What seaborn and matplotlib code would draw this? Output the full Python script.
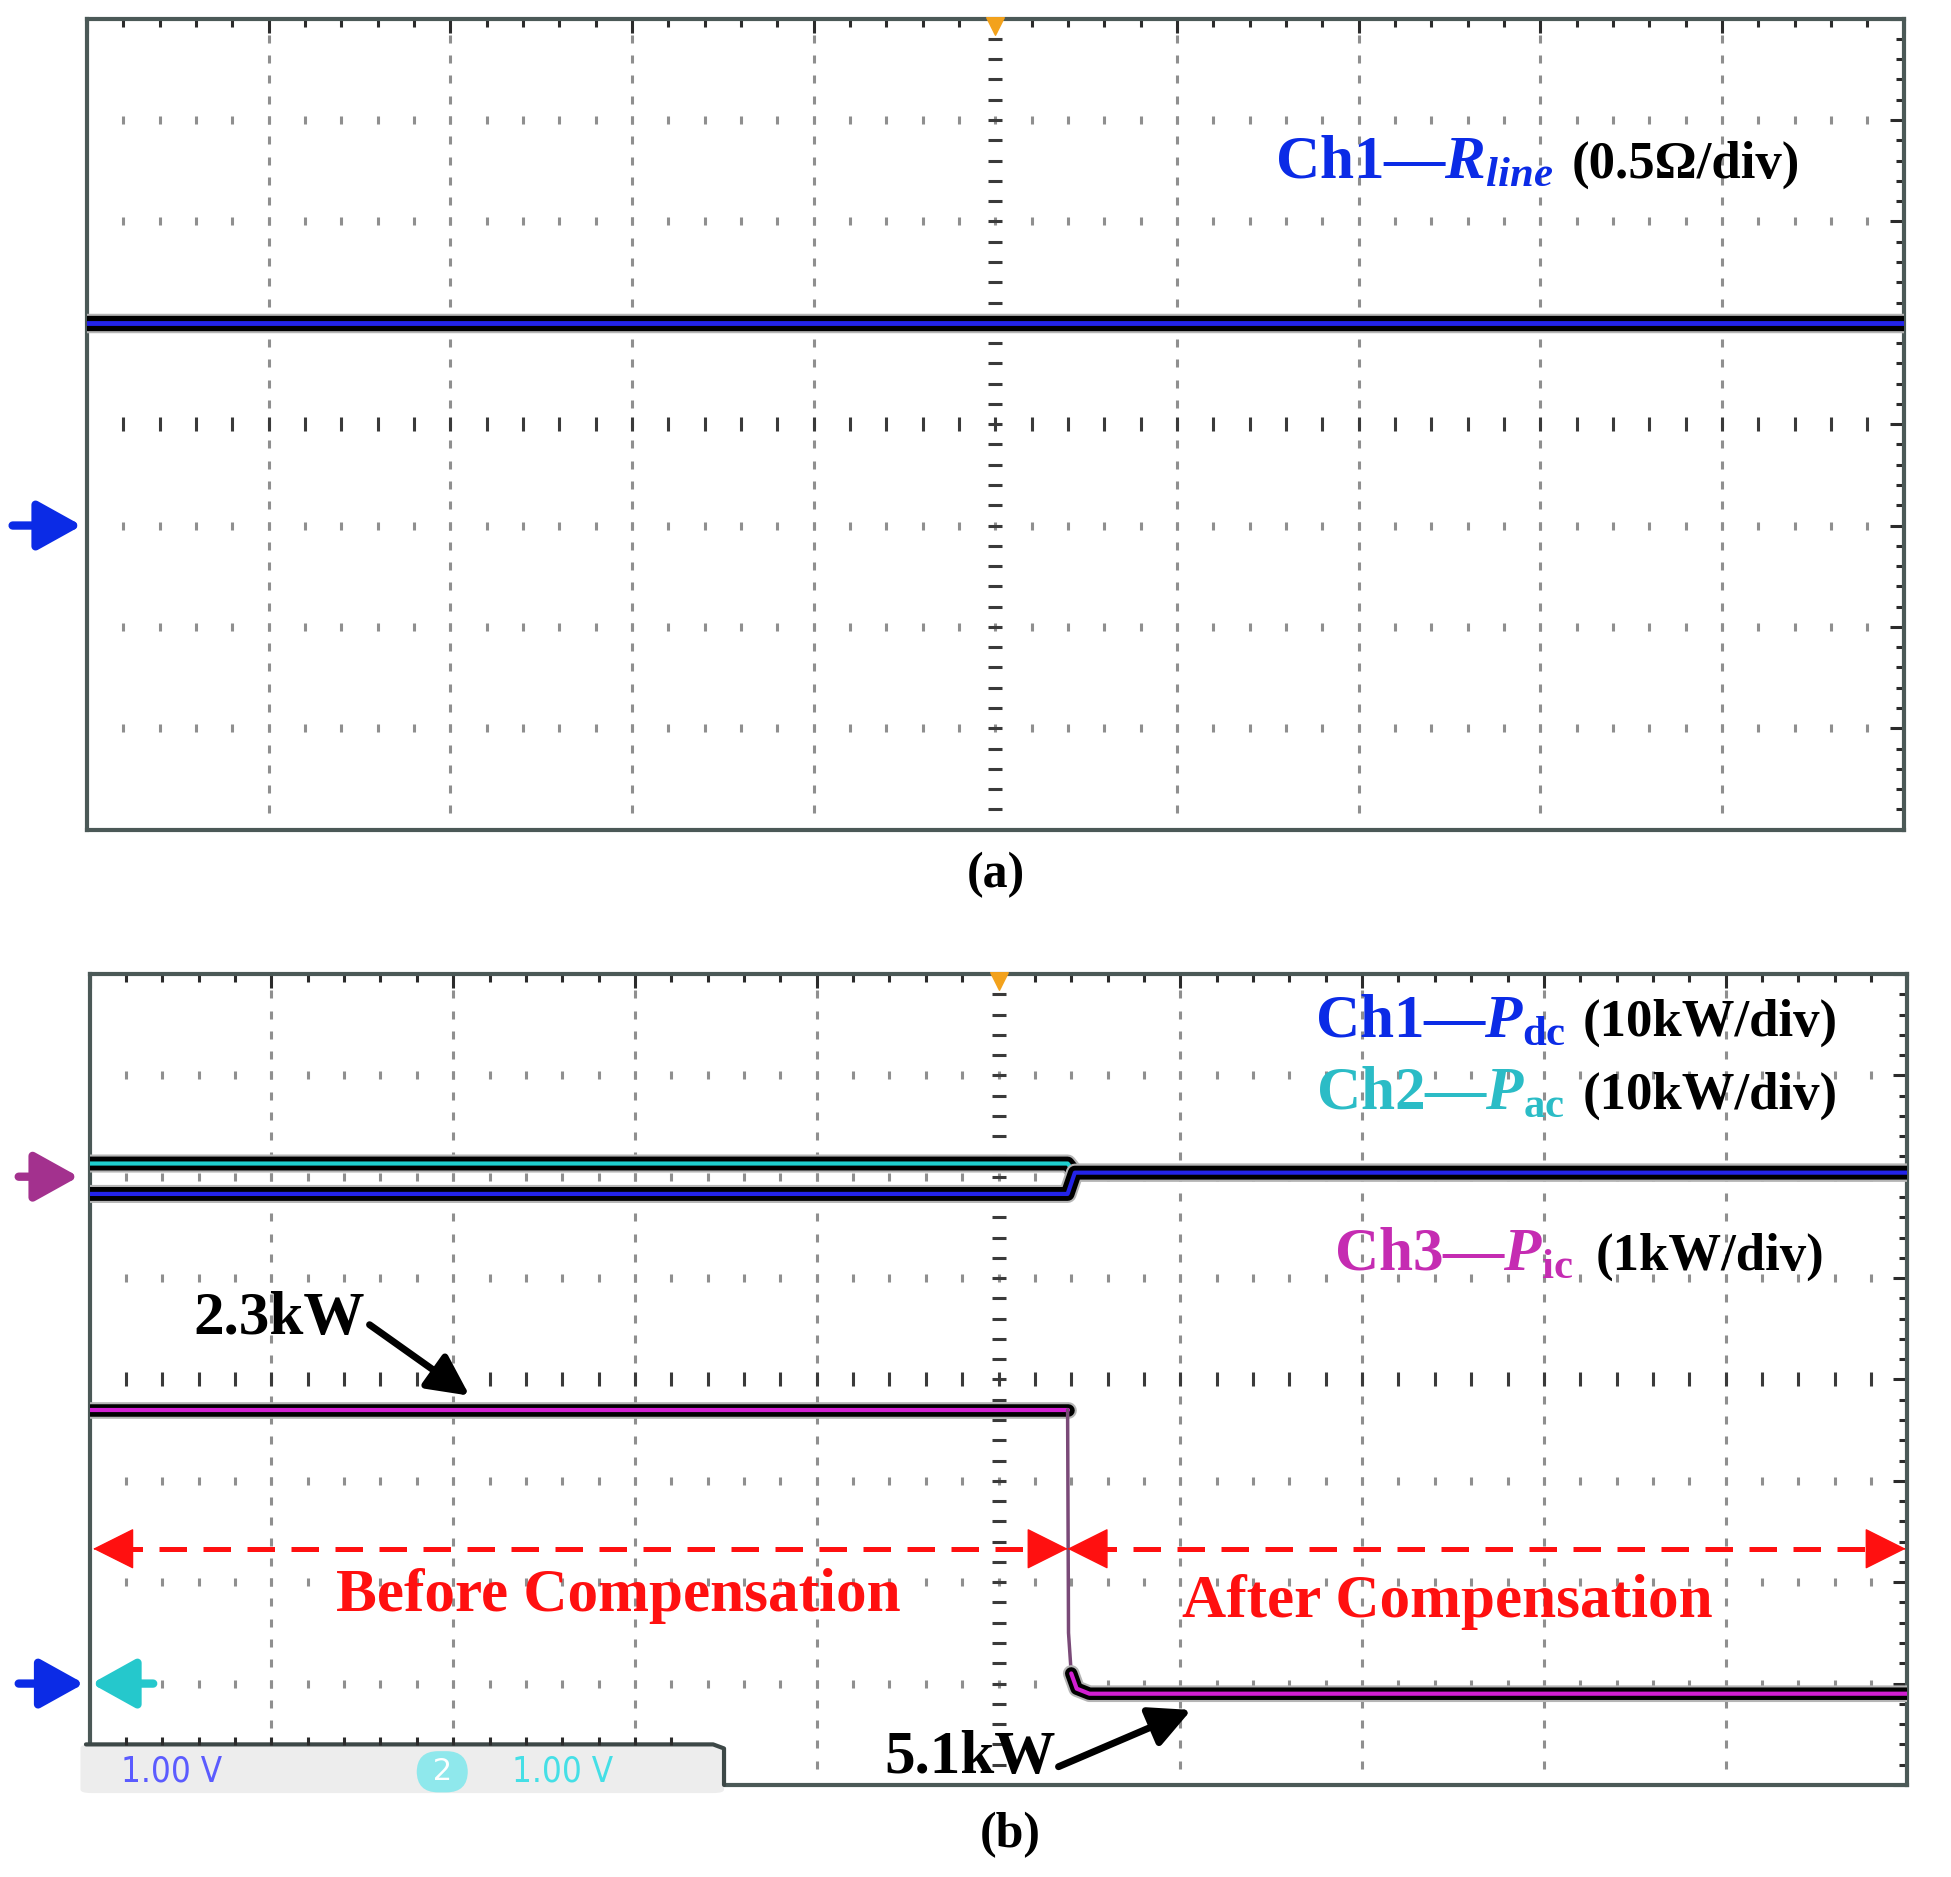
import numpy as np
import pandas as pd
import matplotlib
matplotlib.use("Agg")
import matplotlib.pyplot as plt
import matplotlib.patheffects as pe
from matplotlib.patches import FancyBboxPatch
import seaborn as sns

# ---- data ----
# (a) Ch1: line resistance, 0.5 ohm/div, ground marker at -1 div
t_rline = [0.0, 10.0]
r_line = [1.0, 1.0]          # ohm
rline_scale, rline_gnd = 0.5, -1

# (b) Ch1 P_dc / Ch2 P_ac at 10 kW/div (ground -3 div), Ch3 P_ic at 1 kW/div (ground +2 div)
t_dc = [0.0, 5.38, 5.42, 10.0]
p_dc = [48.3, 48.3, 50.4, 50.4]      # kW
t_ac = [0.0, 5.38, 5.42, 10.0]
p_ac = [51.3, 51.3, 50.4, 50.4]      # kW
t_ic = [0.0, 5.38, 5.385, 5.40, 5.43, 5.50, 10.0]
p_ic = [-2.3, -2.3, -4.5, -4.9, -5.05, -5.1, -5.1]   # kW
pw_scale, pw_gnd = 10, -3
ic_scale, ic_gnd = 1, 2
t_switch = 5.38

BLUE_TXT, CYAN_TXT, MAG_TXT = "#0b2be6", "#2bbcc6", "#c52cb2"
BLUE_TR, CYAN_TR, MAG_TR = "#2323e8", "#1fd0d0", "#d21fd2"
RED = "#ff1010"

sns.set_style("white")
plt.rcParams["font.family"] = ["Liberation Serif", "DejaVu Sans"]
plt.rcParams["text.color"] = "black"
plt.rcParams["mathtext.fontset"] = "custom"
plt.rcParams["mathtext.rm"] = "Liberation Serif:bold"
plt.rcParams["mathtext.bf"] = "Liberation Serif:bold"
plt.rcParams["mathtext.it"] = "Liberation Serif:italic:bold"

fig = plt.figure(figsize=(19.51, 18.77), dpi=100)
ax_a = fig.add_axes([0.04464, 0.55799, 0.93113, 0.43207])
ax_b = fig.add_axes([0.04592, 0.04904, 0.93176, 0.43207])


def scope_axes(ax):
    ax.set_xlim(0, 10)
    ax.set_ylim(-4, 4)
    ax.set_xticks(range(0, 11))
    ax.set_yticks(range(-4, 5))
    ax.set_xticks(np.arange(0, 10.01, 0.2), minor=True)
    ax.set_yticks(np.arange(-4, 4.01, 0.2), minor=True)
    ax.tick_params(which="both", direction="in", top=True, right=True,
                   labelbottom=False, labelleft=False, color="#2b2b2b")
    ax.tick_params(which="major", length=10, width=2.2)
    ax.tick_params(which="minor", length=6, width=2.2)
    for s in ax.spines.values():
        s.set_color("#4b5957")
        s.set_linewidth(3)
    # dotted graticule
    mx = np.arange(0.2, 9.9, 0.2)
    my = np.arange(-3.8, 3.9, 0.2)
    for gx in range(1, 10):
        if gx != 5:
            ax.scatter(np.full(len(my), gx), my, marker="|", s=30, lw=2.2,
                       color="#8f8f8f", zorder=1)
    for gy in range(-3, 4):
        if gy != 0:
            ax.scatter(mx, np.full(len(mx), gy), marker="|", s=30, lw=2.2,
                       color="#8f8f8f", zorder=1)
    # centre crosshair ticks
    ax.scatter(mx, np.zeros(len(mx)), marker="|", s=110, lw=2.2, color="#3a3a3a", zorder=1)
    ax.scatter(np.full(len(my), 5), my, marker="_", s=110, lw=2.2, color="#3a3a3a", zorder=1)
    # trigger marker
    ax.scatter([5], [3.93], marker="v", s=160, color="#f3a21c", zorder=6, clip_on=False)


def trace(ax, t, v, scale, gnd, color, lw_core=3.5, lw_band=12):
    df = pd.DataFrame({"t": t, "div": np.array(v) / scale + gnd})
    effects = [pe.Normal()]
    if lw_band:
        effects = [pe.Stroke(linewidth=lw_band + 3, foreground="#b5b5b5"),
                   pe.Stroke(linewidth=lw_band, foreground="black"),
                   pe.Normal()]
    sns.lineplot(data=df, x="t", y="div", ax=ax, color=color, lw=lw_core,
                 estimator=None, sort=False, zorder=4, path_effects=effects)
    ax.set_xlabel("")
    ax.set_ylabel("")


def gnd_arrow(ax, x0, x1, y, color):
    ax.annotate("", xy=(x1, y), xytext=(x0, y), annotation_clip=False,
                arrowprops=dict(arrowstyle="-|>,head_length=0.45,head_width=0.25",
                                lw=6, color=color, mutation_scale=60,
                                shrinkA=0, shrinkB=0))


def head(ax, x_tip, y, direction):
    ax.annotate("", xy=(x_tip, y), xytext=(x_tip - 0.01 * direction, y),
                annotation_clip=False,
                arrowprops=dict(arrowstyle="-|>,head_length=0.68,head_width=0.34",
                                color=RED, mutation_scale=40, lw=1,
                                shrinkA=0, shrinkB=0), zorder=7)


# ---- panel (a) ----
scope_axes(ax_a)
trace(ax_a, t_rline, r_line, rline_scale, rline_gnd, BLUE_TR, lw_core=3.5, lw_band=11)
gnd_arrow(ax_a, -0.41, -0.03, rline_gnd, BLUE_TXT)

# ---- panel (b) ----
scope_axes(ax_b)
trace(ax_b, t_ac, p_ac, pw_scale, pw_gnd, CYAN_TR, lw_core=3, lw_band=10)
trace(ax_b, t_dc, p_dc, pw_scale, pw_gnd, BLUE_TR, lw_core=3, lw_band=10)
# Ch3: thick before/after levels, thin fast edge in between
trace(ax_b, t_ic[:2], p_ic[:2], ic_scale, ic_gnd, MAG_TR, lw_core=3, lw_band=9)
trace(ax_b, t_ic[1:4], p_ic[1:4], ic_scale, ic_gnd, "#7a4a78", lw_core=2.5, lw_band=0)
trace(ax_b, t_ic[3:], p_ic[3:], ic_scale, ic_gnd, MAG_TR, lw_core=3, lw_band=9)

gnd_arrow(ax_b, -0.39, -0.06, ic_gnd, "#a3318e")
gnd_arrow(ax_b, -0.39, -0.03, pw_gnd, BLUE_TXT)
gnd_arrow(ax_b, 0.35, 0.01, pw_gnd, "#25c8cc")

# before / after spans
y_span = -1.67
for x0, x1 in [(0.02, t_switch), (t_switch, 9.99)]:
    ax_b.plot([x0 + 0.12, x1 - 0.12], [y_span, y_span], color=RED, lw=3.6,
              ls=(0, (5.5, 3.3)), zorder=7)
    head(ax_b, x0, y_span, -1)
    head(ax_b, x1, y_span, 1)
ax_b.text(2.91, -2.28, "Before Compensation", color=RED, fontsize=44,
          fontweight="bold", ha="center", va="baseline", zorder=7)
ax_b.text(7.47, -2.34, "After Compensation", color=RED, fontsize=44,
          fontweight="bold", ha="center", va="baseline", zorder=7)

# value callouts
ax_b.text(0.57, 0.45, "2.3kW", color="black", fontsize=44, fontweight="bold",
          va="baseline", zorder=7)
ax_b.annotate("", xy=(2.09, -0.16), xytext=(1.54, 0.54),
              arrowprops=dict(arrowstyle="-|>,head_length=0.5,head_width=0.25",
                              lw=5, color="black", mutation_scale=50,
                              shrinkA=0, shrinkB=0), zorder=7)
ax_b.text(4.37, -3.88, "5.1kW", color="black", fontsize=44, fontweight="bold",
          va="baseline", zorder=8, clip_on=False)
ax_b.annotate("", xy=(6.06, -3.26), xytext=(5.33, -3.82), annotation_clip=False,
              arrowprops=dict(arrowstyle="-|>,head_length=0.5,head_width=0.25",
                              lw=5, color="black", mutation_scale=50,
                              shrinkA=0, shrinkB=0), zorder=8)

# channel readout box at the bottom of the scope screen
box = FancyBboxPatch((-0.05, -4.08), 3.54, 0.48, boxstyle="round,pad=0,rounding_size=0.06",
                     fc="#ededed", ec="none", zorder=9, clip_on=False, mutation_aspect=0.56)
ax_b.add_patch(box)
ax_b.plot([-0.02, 3.43, 3.49, 3.49], [-3.6, -3.6, -3.64, -4.0], color="#3d4847",
          lw=3, zorder=10, clip_on=False)
bx = np.arange(0.2, 3.3, 0.2)
ax_b.scatter(bx, np.full(len(bx), -3.57), marker="|", s=40, lw=2.2, color="#2b2b2b",
             zorder=10, clip_on=False)
ax_b.text(0.45, -3.87, "1.00 V", color="#5b5bff", fontsize=25, family="DejaVu Sans",
          fontstretch="condensed", ha="center", va="center", zorder=11, clip_on=False)
ax_b.text(1.94, -3.87, " 2 ", color="white", fontsize=22, family="DejaVu Sans",
          ha="center", va="center", zorder=11, clip_on=False,
          bbox=dict(boxstyle="round,pad=0.2,rounding_size=0.7", fc="#8fe8ec", ec="none"))
ax_b.text(2.6, -3.87, "1.00 V", color="#45dfe6", fontsize=25, family="DejaVu Sans",
          fontstretch="condensed", ha="center", va="center", zorder=11, clip_on=False)


# ---- channel legends and captions (figure coordinates from 1568x1509 layout) ----
def fx(px):
    return px / 1568


def fy(py):
    return 1 - py / 1509


fig.text(fx(1025), fy(143), "Ch1—$R_{line}$", color=BLUE_TXT, fontsize=44,
         fontweight="bold", va="baseline")
fig.text(fx(1263), fy(143), "(0.5Ω/div)", color="black", fontsize=38,
         fontweight="bold", va="baseline")

fig.text(fx(1057), fy(833), r"Ch1—$P_{\mathrm{dc}}$", color=BLUE_TXT, fontsize=44,
         fontweight="bold", va="baseline")
fig.text(fx(1272), fy(833), "(10kW/div)", color="black", fontsize=38,
         fontweight="bold", va="baseline")
fig.text(fx(1058), fy(891), r"Ch2—$P_{\mathrm{ac}}$", color=CYAN_TXT, fontsize=44,
         fontweight="bold", va="baseline")
fig.text(fx(1272), fy(891), "(10kW/div)", color="black", fontsize=38,
         fontweight="bold", va="baseline")
fig.text(fx(1072), fy(1021), r"Ch3—$P_{\mathrm{ic}}$", color=MAG_TXT, fontsize=44,
         fontweight="bold", va="baseline")
fig.text(fx(1282), fy(1021), "(1kW/div)", color="black", fontsize=38,
         fontweight="bold", va="baseline")

fig.text(fx(800), fy(713), "(a)", color="black", fontsize=36, fontweight="bold",
         ha="center", va="baseline")
fig.text(fx(812), fy(1485), "(b)", color="black", fontsize=36, fontweight="bold",
         ha="center", va="baseline")

fig.savefig("out.png", dpi=100)
